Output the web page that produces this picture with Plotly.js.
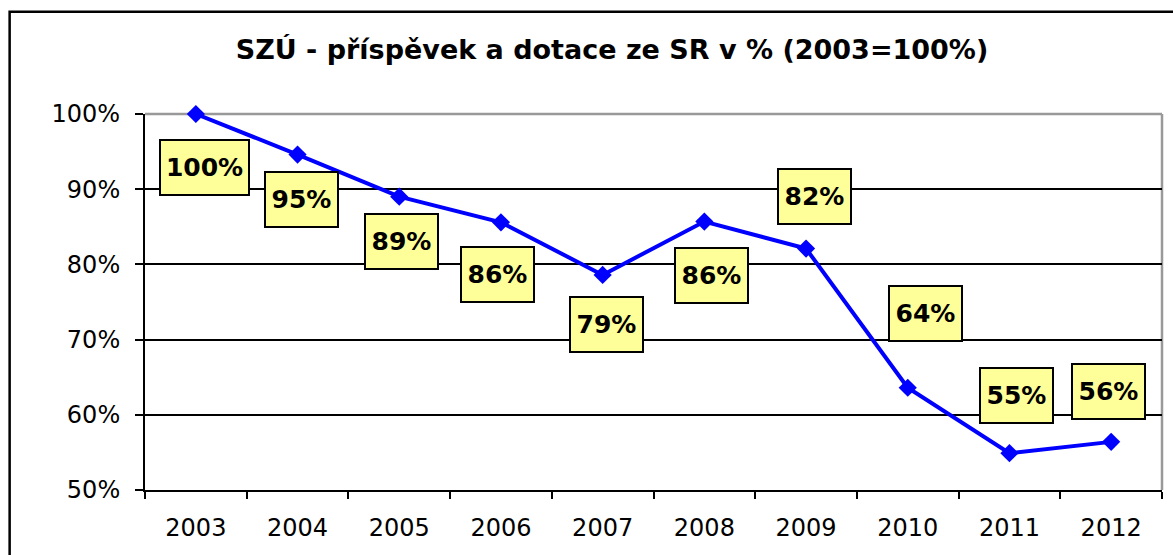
<!DOCTYPE html>
<html>
<head>
<meta charset="utf-8">
<script src="https://cdn.plot.ly/plotly-3.0.1.min.js"></script>
<style>html,body{margin:0;padding:0;background:#fff;}#chart{width:1173px;height:555px;}</style>
</head>
<body>
<div id="chart"></div>
<script>
// ---- data ----
const years = ["2003","2004","2005","2006","2007","2008","2009","2010","2011","2012"];
const values = [1.000, 0.946, 0.890, 0.856, 0.786, 0.857, 0.821, 0.636, 0.549, 0.564];
const yTicks = [0.5, 0.6, 0.7, 0.8, 0.9, 1.0];
const titleText = "SZÚ - příspěvek a dotace ze SR v % (2003=100%)";

// ---- label offsets (style, in pixels) ----
const labelDx = [9, 4, 2.5, -3, 4, 7, 8, 18, 7, -3];
const labelDy = [-53.5, -45, -45, -52, -49.5, -53.5, 52, 74, 58, 50];

const W = 1173, H = 555;
const M = {l: 144.5, r: W - 1162.5, t: 113.5, b: H - 490.5};
const pw = W - M.l - M.r, ph = H - M.t - M.b;
const px = x => (x - M.l) / pw;
const py = y => (H - M.b - y) / ph;

const FONT = "DejaVu Sans, Liberation Sans, Arial, sans-serif";

const trace = {
  x: years, y: values, type: "scatter", mode: "lines+markers",
  line: {color: "#0000FF", width: 4},
  marker: {symbol: "diamond", size: 14, color: "#0000FF"},
  hoverinfo: "none", cliponaxis: false
};

const annotations = years.map((yr, i) => {
  const t = Math.round(values[i] * 100) + "%";
  return {
    x: i, y: values[i], xref: "x", yref: "y",
    text: "<b>" + t + "</b>", showarrow: false,
    xshift: labelDx[i], yshift: labelDy[i],
    xanchor: "center", yanchor: "middle",
    font: {family: FONT, size: 25, color: "#000"},
    bgcolor: "#FFFF99", bordercolor: "#000", borderwidth: 2, borderpad: 3,
    width: t.length > 3 ? 81 : 65, height: 47, align: "center", valign: "middle"
  };
});

const layout = {
  width: W, height: H,
  margin: M,
  paper_bgcolor: "#fff", plot_bgcolor: "#fff",
  showlegend: false,
  title: {
    text: "<b>" + titleText + "</b>",
    font: {family: FONT, size: 27, color: "#000"},
    xref: "container", yref: "container", x: 612 / W, y: 1 - 50 / H,
    xanchor: "center", yanchor: "middle"
  },
  xaxis: {
    type: "category", range: [-0.5, years.length - 0.5],
    tickson: "boundaries", ticks: "outside", ticklen: 7, tickwidth: 2, tickcolor: "#000",
    showline: true, linecolor: "#000", linewidth: 2,
    showgrid: false, zeroline: false, fixedrange: true,
    ticklabelstandoff: 15,
    tickfont: {family: FONT, size: 24, color: "#000"}
  },
  yaxis: {
    range: [0.5, 1.0], tickvals: yTicks, tickformat: ".0%",
    ticks: "outside", ticklen: 8, tickwidth: 2, tickcolor: "#000",
    showline: true, linecolor: "#000", linewidth: 2,
    showgrid: true, gridcolor: "#000", gridwidth: 2, zeroline: false, fixedrange: true,
    ticklabelstandoff: 10,
    tickfont: {family: FONT, size: 24, color: "#000"}
  },
  shapes: [
    {type: "line", xref: "paper", yref: "paper", x0: 0, x1: 1, y0: 1, y1: 1,
     line: {color: "#999", width: 2.5}, layer: "between"},
    {type: "line", xref: "paper", yref: "paper", x0: 1, x1: 1, y0: 0, y1: 1,
     line: {color: "#999", width: 2.5}, layer: "between"},
    {type: "rect", xref: "paper", yref: "paper",
     x0: px(9), x1: px(1185), y0: py(570), y1: py(11),
     line: {color: "#000", width: 2.5}, fillcolor: "rgba(0,0,0,0)", layer: "above"}
  ],
  annotations: annotations
};

Plotly.newPlot("chart", [trace], layout, {displayModeBar: false, staticPlot: true});
</script>
</body>
</html>
